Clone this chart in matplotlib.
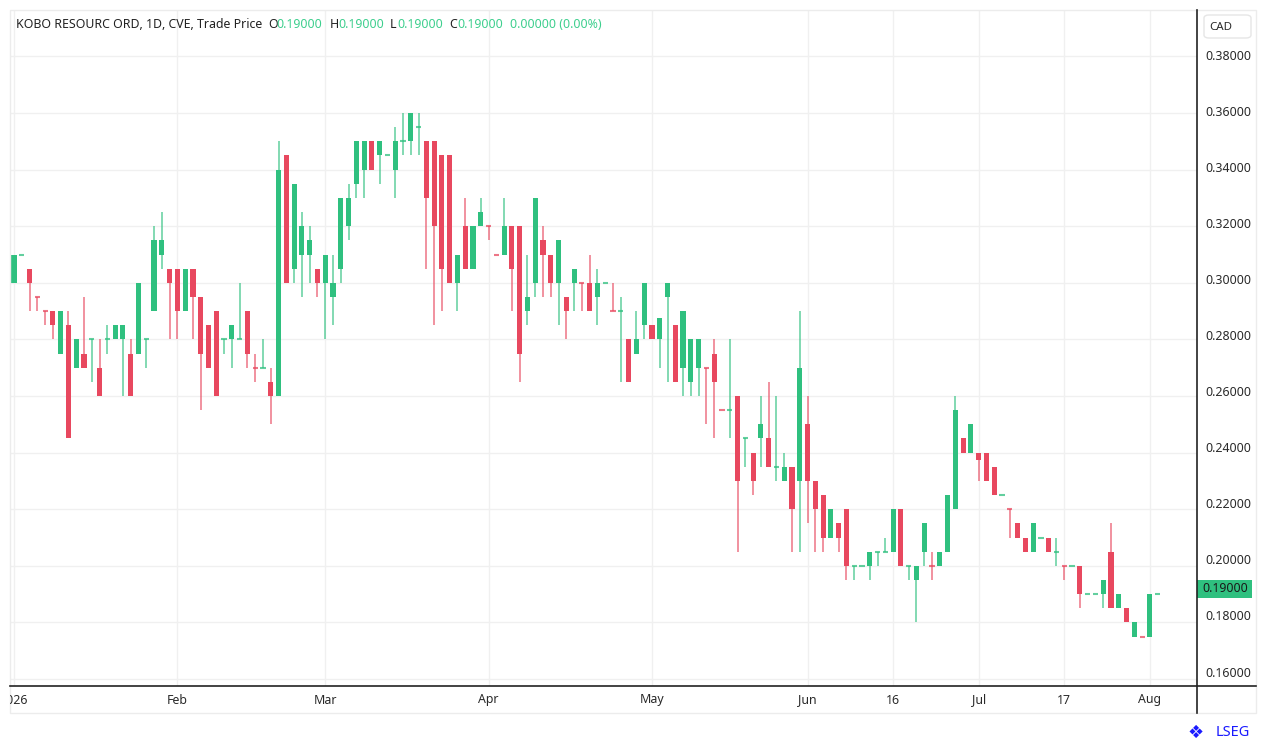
import numpy as np
import matplotlib
matplotlib.use("Agg")
import matplotlib.pyplot as plt
from matplotlib.lines import Line2D
from matplotlib.patches import Rectangle, FancyBboxPatch
from matplotlib.transforms import Bbox, TransformedBbox

# daily candles, KOBO RESOURC ORD (CVE)
opens = [0.30, 0.31, 0.305, 0.295, 0.29, 0.29, 0.275, 0.285, 0.27, 0.275,
         0.28, 0.27, 0.28, 0.28, 0.28, 0.275, 0.275, 0.28, 0.29, 0.31,
         0.305, 0.305, 0.29, 0.305, 0.295, 0.285, 0.29, 0.28, 0.28, 0.28,
         0.29, 0.27, 0.27, 0.265, 0.26, 0.345, 0.305, 0.31, 0.31, 0.305,
         0.30, 0.295, 0.305, 0.32, 0.335, 0.34, 0.35, 0.345, 0.345, 0.34,
         0.35, 0.35, 0.355, 0.35, 0.35, 0.345, 0.345, 0.30, 0.32, 0.305,
         0.32, 0.32, 0.31, 0.31, 0.32, 0.32, 0.29, 0.30, 0.315, 0.31,
         0.30, 0.295, 0.30, 0.30, 0.30, 0.295, 0.30, 0.29, 0.29, 0.28,
         0.275, 0.285, 0.285, 0.28, 0.295, 0.285, 0.27, 0.265, 0.27, 0.27,
         0.275, 0.255, 0.255, 0.26, 0.245, 0.24, 0.245, 0.245, 0.235, 0.23,
         0.235, 0.23, 0.25, 0.23, 0.225, 0.21, 0.215, 0.22, 0.20, 0.20,
         0.20, 0.205, 0.205, 0.205, 0.22, 0.20, 0.195, 0.205, 0.20, 0.20,
         0.205, 0.22, 0.245, 0.24, 0.24, 0.24, 0.235, 0.225, 0.22, 0.215,
         0.21, 0.205, 0.21, 0.21, 0.205, 0.20, 0.20, 0.20, 0.19, 0.19,
         0.19, 0.205, 0.185, 0.185, 0.175, 0.175, 0.175, 0.19]
highs = [0.31, 0.31, 0.305, 0.295, 0.29, 0.29, 0.29, 0.29, 0.28, 0.295,
         0.28, 0.28, 0.285, 0.285, 0.285, 0.28, 0.30, 0.28, 0.32, 0.325,
         0.305, 0.305, 0.305, 0.305, 0.295, 0.285, 0.29, 0.28, 0.285, 0.30,
         0.29, 0.275, 0.28, 0.27, 0.35, 0.345, 0.335, 0.325, 0.32, 0.305,
         0.31, 0.31, 0.33, 0.335, 0.35, 0.35, 0.35, 0.35, 0.345, 0.355,
         0.36, 0.36, 0.36, 0.35, 0.35, 0.345, 0.345, 0.31, 0.33, 0.32,
         0.33, 0.32, 0.31, 0.33, 0.32, 0.32, 0.31, 0.33, 0.32, 0.31,
         0.315, 0.295, 0.305, 0.30, 0.31, 0.305, 0.30, 0.30, 0.295, 0.28,
         0.29, 0.30, 0.285, 0.2875, 0.30, 0.285, 0.29, 0.28, 0.28, 0.27,
         0.28, 0.255, 0.28, 0.26, 0.245, 0.24, 0.26, 0.265, 0.26, 0.24,
         0.235, 0.29, 0.26, 0.23, 0.225, 0.22, 0.215, 0.22, 0.20, 0.20,
         0.205, 0.205, 0.21, 0.22, 0.22, 0.20, 0.20, 0.215, 0.205, 0.205,
         0.225, 0.26, 0.245, 0.25, 0.24, 0.24, 0.235, 0.225, 0.22, 0.215,
         0.21, 0.215, 0.21, 0.21, 0.21, 0.20, 0.20, 0.20, 0.19, 0.19,
         0.195, 0.215, 0.19, 0.185, 0.18, 0.175, 0.19, 0.19]
lows = [0.30, 0.31, 0.29, 0.29, 0.285, 0.28, 0.275, 0.245, 0.27, 0.27,
        0.265, 0.26, 0.275, 0.28, 0.26, 0.26, 0.275, 0.27, 0.29, 0.305,
        0.28, 0.28, 0.29, 0.28, 0.255, 0.27, 0.26, 0.275, 0.27, 0.28,
        0.27, 0.265, 0.27, 0.25, 0.26, 0.30, 0.30, 0.295, 0.30, 0.295,
        0.28, 0.285, 0.30, 0.315, 0.33, 0.33, 0.34, 0.335, 0.345, 0.33,
        0.345, 0.345, 0.345, 0.305, 0.285, 0.29, 0.30, 0.29, 0.305, 0.305,
        0.32, 0.315, 0.31, 0.31, 0.29, 0.265, 0.285, 0.295, 0.295, 0.295,
        0.285, 0.28, 0.29, 0.29, 0.29, 0.285, 0.30, 0.29, 0.265, 0.265,
        0.275, 0.28, 0.28, 0.27, 0.265, 0.265, 0.26, 0.26, 0.26, 0.25,
        0.245, 0.255, 0.245, 0.205, 0.235, 0.225, 0.235, 0.235, 0.23, 0.23,
        0.205, 0.205, 0.215, 0.205, 0.205, 0.21, 0.205, 0.195, 0.195, 0.20,
        0.195, 0.20, 0.205, 0.205, 0.20, 0.195, 0.18, 0.20, 0.195, 0.20,
        0.205, 0.22, 0.24, 0.24, 0.23, 0.23, 0.225, 0.225, 0.21, 0.21,
        0.205, 0.205, 0.21, 0.205, 0.20, 0.195, 0.20, 0.185, 0.19, 0.19,
        0.185, 0.185, 0.185, 0.18, 0.175, 0.175, 0.175, 0.19]
closes = [0.31, 0.31, 0.30, 0.295, 0.29, 0.285, 0.29, 0.245, 0.28, 0.27,
          0.28, 0.26, 0.28, 0.285, 0.285, 0.26, 0.30, 0.28, 0.315, 0.315,
          0.30, 0.29, 0.305, 0.295, 0.275, 0.27, 0.26, 0.28, 0.285, 0.28,
          0.275, 0.27, 0.27, 0.26, 0.34, 0.30, 0.335, 0.32, 0.315, 0.30,
          0.31, 0.30, 0.33, 0.33, 0.35, 0.35, 0.34, 0.35, 0.345, 0.35,
          0.35, 0.36, 0.355, 0.33, 0.32, 0.305, 0.30, 0.31, 0.305, 0.32,
          0.325, 0.32, 0.31, 0.32, 0.305, 0.275, 0.295, 0.33, 0.31, 0.30,
          0.315, 0.29, 0.305, 0.30, 0.29, 0.30, 0.30, 0.29, 0.29, 0.265,
          0.28, 0.30, 0.28, 0.2875, 0.30, 0.265, 0.29, 0.28, 0.28, 0.27,
          0.265, 0.255, 0.255, 0.23, 0.245, 0.23, 0.25, 0.235, 0.235, 0.235,
          0.22, 0.27, 0.23, 0.22, 0.21, 0.22, 0.21, 0.20, 0.20, 0.20,
          0.205, 0.205, 0.205, 0.22, 0.20, 0.20, 0.20, 0.215, 0.20, 0.205,
          0.225, 0.255, 0.24, 0.25, 0.2375, 0.23, 0.225, 0.225, 0.22, 0.21,
          0.205, 0.215, 0.21, 0.205, 0.205, 0.20, 0.20, 0.19, 0.19, 0.19,
          0.195, 0.185, 0.19, 0.18, 0.18, 0.175, 0.19, 0.19]
# candles with open == close that are drawn in the down colour
doji_down = [3, 4, 31, 61, 62, 73, 77, 89, 91, 118, 128, 135, 145]

tick_pos = [0, 21, 40, 61, 82, 102, 113, 124, 135, 146]
tick_labels = ["2026", "Feb", "Mar", "Apr", "May", "Jun", "16", "Jul", "17", "Aug"]
price_ticks = [0.16, 0.18, 0.20, 0.22, 0.24, 0.26, 0.28, 0.30, 0.32, 0.34, 0.36, 0.38]
last_price = 0.19

green = "#2fc07f"
red = "#e8485f"
grid_c = "#f0f0f0"
text_c = "#2a2a2a"
fs = 8.9

plt.rcParams["font.family"] = ["Noto Sans", "DejaVu Sans"]

W, H = 1266, 744
fig = plt.figure(figsize=(W / 100, H / 100), dpi=100)

def fx(px):
    return px / W

def fy(py):
    return 1 - py / H

ax = fig.add_axes([fx(10), fy(686), fx(1197) - fx(10), fy(10) - fy(686)])
ax.set_xlim(-0.514, 152.06)
ax.set_ylim(0.15754, 0.3964)

o = np.array(opens)
h = np.array(highs)
l = np.array(lows)
c = np.array(closes)
x = np.arange(len(o))

up = c > o
down = c < o
flat = ~(up | down)
is_down = down.copy()
is_down[doji_down] = True
colors = np.where(is_down, red, green)

# grid
for p in price_ticks:
    ax.axhline(p, color=grid_c, lw=1, zorder=0)
for t in tick_pos:
    ax.axvline(t, color=grid_c, lw=1, zorder=0)

# wicks
ax.vlines(x, l, h, colors=colors, lw=1.4, alpha=0.6, zorder=2)

# bodies
bw = 0.66
solid = ~flat
ax.bar(x[solid], np.abs(c - o)[solid], bottom=np.minimum(o, c)[solid], width=bw,
       color=colors[solid], edgecolor="none", zorder=3)
# dojis
ax.hlines(o[flat], x[flat] - bw / 2, x[flat] + bw / 2, colors=colors[flat],
          lw=1.5, alpha=0.75, zorder=3)

ax.set_xticks([])
ax.set_yticks([])
for s in ax.spines.values():
    s.set_visible(False)

# outer frame and axis lines
fig.add_artist(Rectangle((fx(10), fy(713)), fx(1256) - fx(10), fy(10) - fy(713),
                         transform=fig.transFigure, fill=False, ec="#ececec", lw=1))
fig.add_artist(Line2D([fx(10), fx(1256)], [fy(686), fy(686)], color="#222222", lw=1.2))
fig.add_artist(Line2D([fx(1197), fx(1197)], [fy(10), fy(713)], color="#222222", lw=1.2))

# price axis labels
for p in price_ticks:
    py = 56 + (0.38 - p) * 2805
    fig.text(fx(1205), fy(py), f"{p:.5f}", fontsize=fs, color=text_c,
             ha="left", va="center")

# date labels
clip = TransformedBbox(Bbox([[fx(10), 0], [1, 1]]), fig.transFigure)
for t, lab in zip(tick_pos, tick_labels):
    px = 14 + t * 7.78
    tx = fig.text(fx(px), fy(700), lab, fontsize=fs, color=text_c,
                  ha="center", va="center")
    tx.set_clip_box(clip)
    tx.set_clip_on(True)

# currency box
fig.add_artist(FancyBboxPatch((fx(1204), fy(38)), fx(1251) - fx(1204), fy(15) - fy(38),
                              boxstyle="round,pad=0,rounding_size=0.004",
                              transform=fig.transFigure, fill=False, ec="#e6e6e6", lw=1))
fig.text(fx(1221), fy(27), "CAD", fontsize=8.3, color=text_c, ha="center", va="center")

# last price badge
lp_y = 56 + (0.38 - last_price) * 2805
fig.add_artist(Rectangle((fx(1197), fy(lp_y + 9)), fx(1252) - fx(1197), fy(lp_y - 9) - fy(lp_y + 9),
                         transform=fig.transFigure, color=green, lw=0))
fig.text(fx(1225), fy(lp_y), f"{last_price:.5f}", fontsize=fs, color="#1a1a1a",
         ha="center", va="center")

# header
hdr_y = fy(24)
fig.text(fx(16), hdr_y, "KOBO RESOURC ORD, 1D, CVE, Trade Price", fontsize=fs,
         color="#222222", va="center")
hdr_green = "#3ecf8e"
parts = [(268, "O", "#222222"), (276, f"{opens[-1]:.5f}", hdr_green),
         (330, "H", "#222222"), (338, f"{highs[-1]:.5f}", hdr_green),
         (390, "L", "#222222"), (397, f"{lows[-1]:.5f}", hdr_green),
         (449, "C", "#222222"), (457, f"{closes[-1]:.5f}", hdr_green),
         (510, f"{closes[-1] - closes[-2]:.5f} ({(closes[-1] - closes[-2]) / closes[-2] * 100:.2f}%)", hdr_green)]
for px, s, col in parts:
    fig.text(fx(px), hdr_y, s, fontsize=fs, color=col, va="center")

# LSEG mark
fig.text(fx(1216), fy(733), "LSEG", fontsize=10.5, fontweight="bold", color="#1a1aff",
         ha="left", va="center")
fig.text(fx(1196), fy(733), "\u2756", fontsize=13, color="#1a1aff", ha="center", va="center")

fig.savefig("out.png", dpi=100)
